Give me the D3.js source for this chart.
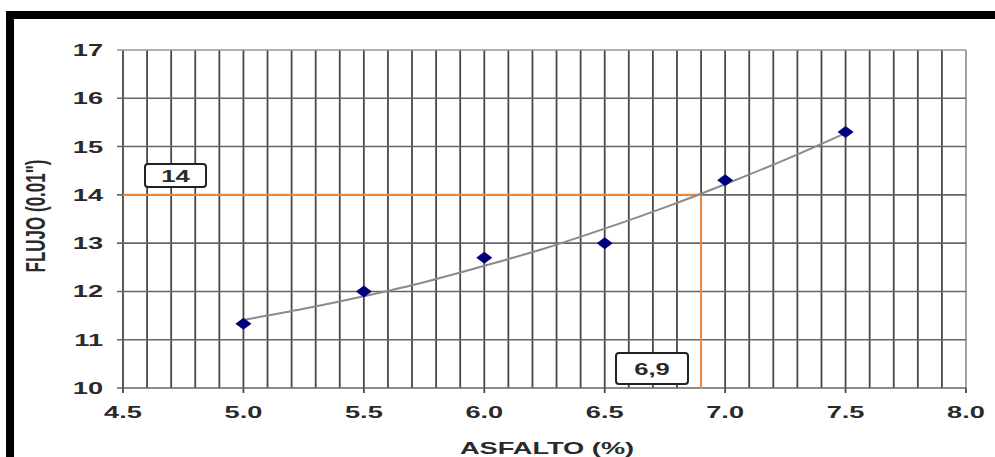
<!DOCTYPE html>
<html><head><meta charset="utf-8">
<script src="https://cdn.jsdelivr.net/npm/d3@7"></script>
<style>html,body{margin:0;padding:0;background:#fff;}svg{display:block;}</style>
</head><body>
<script>
// ---- data ----
const asfalto = [5.0, 5.5, 6.0, 6.5, 7.0, 7.5];
const flujo = [11.33, 12.0, 12.7, 13.0, 14.3, 15.3];
const trendAsfalto = [5.0, 5.25, 5.5, 5.75, 6.0, 6.25, 6.5, 6.75, 7.0, 7.25, 7.5];
const trendFlujo = [11.41, 11.64, 11.90, 12.19, 12.53, 12.89, 13.30, 13.74, 14.22, 14.73, 15.28];
const xTickValues = [4.5, 5.0, 5.5, 6.0, 6.5, 7.0, 7.5, 8.0];
const xTickLabels = ["4.5", "5.0", "5.5", "6.0", "6.5", "7.0", "7.5", "8.0"];
const yTickValues = [10, 11, 12, 13, 14, 15, 16, 17];
const yTickLabels = ["10", "11", "12", "13", "14", "15", "16", "17"];
const designAsfalto = 6.9, designFlujo = 14;
const designAsfaltoLabel = "6,9", designFlujoLabel = "14";
const xTitle = "ASFALTO (%)", yTitle = "FLUJO (0.01\")";

const W = 995, H = 457;
const svg = d3.select("body").append("svg").attr("width", W).attr("height", H);

// frame bars
svg.append("rect").attr("x", 6).attr("y", 11).attr("width", W - 6).attr("height", 8).attr("fill", "#000");
svg.append("rect").attr("x", 6).attr("y", 11).attr("width", 8).attr("height", H - 11).attr("fill", "#000");

const x = d3.scaleLinear().domain([4.5, 8.0]).range([123, 966]);
const y = d3.scaleLinear().domain([10, 17]).range([388, 50]);

const SX = 1.6;
const font = "'Liberation Sans', Arial, sans-serif";
function stext(px, py, txt, size, anchor, rot) {
  const g = svg.append("g").attr("transform", `translate(${px},${py}) scale(${SX},1)` + (rot ? ` rotate(${rot})` : ""));
  return g.append("text").attr("x", 0).attr("y", 0).attr("text-anchor", anchor)
    .attr("font-family", font).attr("font-weight", "bold").attr("font-size", size)
    .attr("fill", "#2a2a2a").text(txt);
}

// grid
const minor = d3.range(45, 81).map(v => v / 10);
svg.append("g").selectAll("line").data(minor).join("line")
  .attr("x1", d => x(d)).attr("x2", d => x(d)).attr("y1", y(17)).attr("y2", y(10))
  .attr("stroke", (d, i) => (i === minor.length - 1) ? "#999" : "#484848").attr("stroke-width", 1.8);
svg.append("g").selectAll("line").data(yTickValues).join("line")
  .attr("x1", x(4.5) - 6).attr("x2", x(8.0)).attr("y1", d => y(d)).attr("y2", d => y(d))
  .attr("stroke", d => d === 17 ? "#999" : "#666").attr("stroke-width", 1.6);
// x ticks
svg.append("g").selectAll("line").data(xTickValues).join("line")
  .attr("x1", d => x(d)).attr("x2", d => x(d)).attr("y1", y(10)).attr("y2", y(10) + 5)
  .attr("stroke", "#484848").attr("stroke-width", 1.8);

// tick labels
yTickValues.forEach((v, i) => stext(103, y(v) + 6, yTickLabels[i], 17, "end"));
xTickValues.forEach((v, i) => stext(x(v), 418, xTickLabels[i], 17, "middle"));

// axis titles
stext(547, 454, xTitle, 17, "middle");
stext(45, 216, yTitle, 17, "middle", -90);

// orange design lines
svg.append("line").attr("x1", x(4.5)).attr("x2", x(designAsfalto)).attr("y1", y(designFlujo)).attr("y2", y(designFlujo))
  .attr("stroke", "#f2883c").attr("stroke-width", 2);
svg.append("line").attr("x1", x(designAsfalto)).attr("x2", x(designAsfalto)).attr("y1", y(designFlujo)).attr("y2", y(10))
  .attr("stroke", "#f2883c").attr("stroke-width", 2);

// trend line
const line = d3.line().x(d => x(d[0])).y(d => y(d[1])).curve(d3.curveCatmullRom);
svg.append("path").datum(d3.zip(trendAsfalto, trendFlujo)).attr("d", line)
  .attr("fill", "none").attr("stroke", "#8a8a8a").attr("stroke-width", 2);

// markers
svg.append("g").selectAll("path").data(d3.zip(asfalto, flujo)).join("path")
  .attr("transform", d => `translate(${x(d[0])},${y(d[1])})`)
  .attr("d", "M-8,0 L0,-6 L8,0 L0,6 Z").attr("fill", "#00007f");

// label boxes
function box(x0, y0, w, h, txt) {
  svg.append("rect").attr("x", x0).attr("y", y0).attr("width", w).attr("height", h).attr("rx", 3)
    .attr("fill", "#fff").attr("stroke", "#222").attr("stroke-width", 2);
  stext(x0 + w / 2, y0 + h / 2 + 6, txt, 16, "middle");
}
box(145, 164, 61, 23, designFlujoLabel);
box(616, 353, 72, 31, designAsfaltoLabel);
</script>
</body></html>
